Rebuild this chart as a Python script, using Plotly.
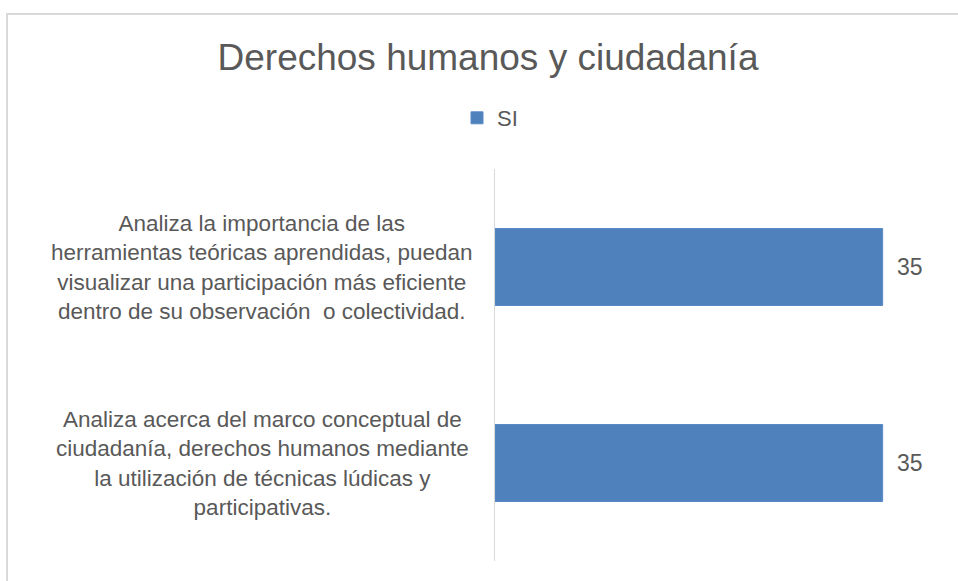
import plotly.graph_objects as go

# Data
categories = [
    "Analiza la importancia de las<br>herramientas teóricas aprendidas, puedan<br>visualizar una participación más eficiente<br>dentro de su observación  o colectividad.",
    "Analiza acerca del marco conceptual de<br>ciudadanía, derechos humanos mediante<br>la utilización de técnicas lúdicas y<br>participativas.",
]
cat_ids = ["c1", "c2"]
values_si = [35, 35]
series_name = "SI"
title_text = "Derechos humanos y ciudadanía"

W, H = 958, 581
ML, MR, MT, MB = 495, 20, 169, 20
PW = W - ML - MR
PH = H - MT - MB

def px_to_paper_x(px):
    return (px - ML) / PW

def px_to_paper_y(py):
    return (H - MB - py) / PH

text_color = "#595959"
font_family = "Liberation Sans, Arial, sans-serif"

fig = go.Figure()
fig.add_trace(go.Bar(
    y=cat_ids,
    x=values_si,
    orientation="h",
    name=series_name,
    marker=dict(color="#4F81BD", line=dict(color="#5A8AC6", width=1)),
    showlegend=True,
))

annotations = []
# category labels, centered
for cid, label in zip(cat_ids, categories):
    annotations.append(dict(
        x=px_to_paper_x(262), xref="paper", y=cid, yref="y",
        text=label, showarrow=False, xanchor="center", yanchor="middle",
        align="center", font=dict(size=22.5, color=text_color, family=font_family),
    ))
# data labels
for cid, v in zip(cat_ids, values_si):
    annotations.append(dict(
        x=v, xref="x", y=cid, yref="y", text=str(v), showarrow=False,
        xanchor="left", yanchor="middle", xshift=12,
        font=dict(size=23, color=text_color, family=font_family),
    ))

fig.update_layout(
    width=W, height=H,
    margin=dict(l=ML, r=MR, t=MT, b=MB, pad=0),
    paper_bgcolor="white", plot_bgcolor="white",
    font=dict(family=font_family, color=text_color, size=22),
    title=dict(text=title_text, x=488 / W, xanchor="center", xref="container",
               y=1 - 57 / H, yanchor="middle", yref="container",
               font=dict(size=37, color=text_color, family=font_family)),
    bargap=0.607,
    xaxis=dict(range=[0, 40], visible=False, showgrid=False, zeroline=False),
    yaxis=dict(autorange="reversed", showticklabels=False, showgrid=False,
               zeroline=False, showline=True, linecolor="#d9d9d9", linewidth=1,
               ticks=""),
    legend=dict(orientation="h", x=px_to_paper_x(457), xanchor="left",
                y=px_to_paper_y(118), yanchor="middle",
                font=dict(size=22, color=text_color, family=font_family),
                bgcolor="rgba(0,0,0,0)"),
    annotations=annotations,
    shapes=[dict(type="rect", xref="paper", yref="paper",
                 x0=px_to_paper_x(7), x1=px_to_paper_x(980),
                 y0=px_to_paper_y(600), y1=px_to_paper_y(14),
                 line=dict(color="#d9d9d9", width=2), fillcolor="rgba(0,0,0,0)",
                 layer="below")],
)

fig.write_html("out.html", config={"displayModeBar": False},
               post_script="document.body.style.margin='0';")
